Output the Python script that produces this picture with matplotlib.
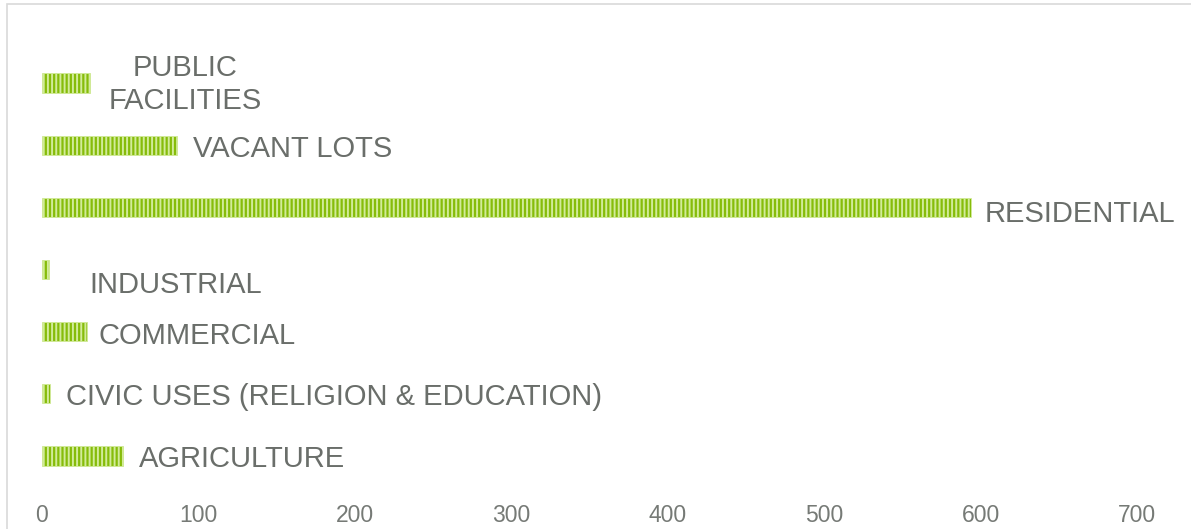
import matplotlib
matplotlib.use("Agg")
import matplotlib.pyplot as plt
from matplotlib.patches import Rectangle

plt.rcParams['font.family'] = ['Liberation Sans', 'DejaVu Sans']
plt.rcParams['hatch.linewidth'] = 1.4

# Land use areas, bottom to top
categories = ["AGRICULTURE", "CIVIC USES (RELIGION & EDUCATION)", "COMMERCIAL",
              "INDUSTRIAL", "RESIDENTIAL", "VACANT LOTS", "PUBLIC\nFACILITIES"]
values = [52, 5, 29, 4.5, 594, 86, 31]
x_ticks = [0, 100, 200, 300, 400, 500, 600, 700]

# Label offsets from the end of each bar, in points (x right, y up)
label_offsets = [(11.5, -2.5), (12, -2.5), (8, -3), (29, -11.5), (10, -5), (11.5, -2.5), (68, -1)]
label_align = ["left", "left", "left", "left", "left", "left", "center"]

W, H, DPI = 1191, 529, 100
fig = plt.figure(figsize=(W / DPI, H / DPI), dpi=DPI)

# Chart-area frame (runs past the right and bottom edges)
fig.patches.append(Rectangle((7 / W, -0.1), 1.2, (H - 4) / H + 0.1,
                             transform=fig.transFigure, fill=False,
                             edgecolor="#D9D9D9", linewidth=1.2))

ax_top, ax_bot = 20, 490
ax = fig.add_axes([42 / W, (H - ax_bot) / H, 1095 / W, (ax_bot - ax_top) / H])

green = "#86BC0A"
light = "#D2EB9A"
text_color = "#6A6E6A"

ypos = list(range(len(categories)))
bars = ax.barh(ypos, values, height=0.31, color=green, edgecolor=light,
               linewidth=0.6, hatch="||||")

for bar, lab, off, ha in zip(bars, categories, label_offsets, label_align):
    yc = bar.get_y() + bar.get_height() / 2
    ax.annotate(lab, xy=(bar.get_width(), yc), xytext=off,
                textcoords="offset points", ha=ha, va="center",
                multialignment="center", fontsize=21, color=text_color,
                linespacing=1.25)

px_per_unit = 62.17
ax.set_ylim((456 - ax_bot) / px_per_unit, (456 - ax_top) / px_per_unit)
ax.set_xlim(0, 700)
ax.set_xticks(x_ticks)
ax.set_xticklabels([str(t) for t in x_ticks])
ax.set_yticks([])
ax.tick_params(axis="x", length=0, pad=10, labelsize=16.5, labelcolor="#767A76")
for s in ax.spines.values():
    s.set_visible(False)
ax.patch.set_alpha(0)

fig.savefig("out.png", dpi=DPI, facecolor="white")
